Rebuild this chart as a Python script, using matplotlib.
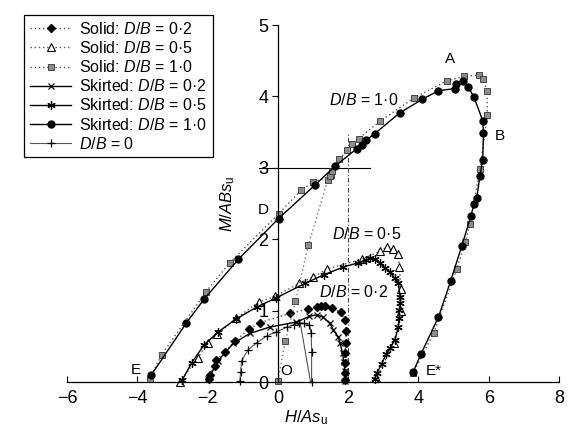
import numpy as np
import matplotlib
matplotlib.use("Agg")
from matplotlib import pyplot as plt

plt.rcParams['font.family'] = ['Liberation Sans', 'DejaVu Sans']
plt.rcParams['mathtext.fontset'] = 'custom'
plt.rcParams['mathtext.rm'] = 'Liberation Sans'
plt.rcParams['mathtext.it'] = 'Liberation Sans:italic'

# ---- data (H/As_u, M/ABs_u) ----
solid02_h = [-1.96, -1.94, -1.8, -1.75, -1.51, -1.23, -0.82, -0.51, 0.34, 0.86, 1.1, 1.24, 1.35, 1.53,
             1.81, 1.91, 1.94, 1.93, 1.91, 1.9, 1.9, 1.9]
solid02_m = [0.04, 0.1, 0.22, 0.31, 0.42, 0.57, 0.74, 0.83, 0.96, 1.02, 1.05, 1.06, 1.06, 1.03,
             0.98, 0.87, 0.72, 0.55, 0.4, 0.26, 0.12, 0.03]

solid05_h = [-2.79, -2.27, -2.0, -1.72, -1.19, -0.55, -0.08, 0.6, 1.0, 1.39, 2.38, 2.91, 3.1, 3.28, 3.43,
             3.46, 3.5, 3.5, 3.3, 2.8]
solid05_m = [0.0, 0.34, 0.55, 0.67, 0.89, 1.12, 1.2, 1.38, 1.47, 1.58, 1.72, 1.83, 1.89, 1.86, 1.79,
             1.61, 1.3, 1.0, 0.55, 0.05]

solid10_h = [-3.65, -3.31, -2.05, -1.37, 0.03, 0.67, 1.0, 1.48, 1.53, 1.75, 1.96, 2.1, 2.3, 2.9, 3.88,
             4.81, 5.31, 5.71, 5.85, 5.95, 5.96, 5.75, 5.47, 5.33, 5.09, 4.43, 3.85]
solid10_m = [0.04, 0.38, 1.26, 1.67, 2.36, 2.69, 2.8, 2.88, 2.95, 3.12, 3.25, 3.34, 3.41, 3.65, 3.98,
             4.22, 4.28, 4.3, 4.24, 4.08, 3.74, 2.98, 2.22, 1.96, 1.58, 0.68, 0.13]
solid10_o_h = [0.0, 0.21, 0.5, 0.87, 1.42, 1.5]
solid10_o_m = [0.02, 0.57, 1.13, 1.92, 2.83, 2.9]

skirt02_h = [-1.98, -1.7, -1.27, -0.8, -0.23, 0.53, 0.9, 1.1, 1.28, 1.48, 1.58, 1.72, 1.77, 1.84, 1.88, 1.91, 1.91]
skirt02_m = [0.04, 0.3, 0.54, 0.68, 0.77, 0.84, 0.92, 0.94, 0.91, 0.82, 0.73, 0.63, 0.55, 0.4, 0.28, 0.15, 0.02]

skirt05_h = [-2.72, -2.45, -2.1, -1.7, -1.2, -0.6, -0.04, 0.77, 1.3, 1.86, 2.29, 2.5, 2.62, 2.76, 2.91,
             3.05, 3.19, 3.33, 3.43, 3.48, 3.48, 3.46, 3.45, 3.43, 3.33, 3.2, 3.08, 2.95, 2.81, 2.76]
skirt05_m = [0.03, 0.27, 0.52, 0.7, 0.88, 1.05, 1.18, 1.38, 1.5, 1.61, 1.67, 1.71, 1.73, 1.72, 1.66,
             1.6, 1.54, 1.45, 1.38, 1.19, 1.1, 1.01, 0.9, 0.77, 0.59, 0.48, 0.39, 0.25, 0.12, 0.04]

skirt10_h = [-3.6, -2.6, -2.1, -1.12, 0.02, 1.06, 1.62, 2.25, 2.38, 2.52, 2.76, 3.47, 4.11, 4.57, 5.04,
             5.06, 5.28, 5.42, 5.58, 5.83, 5.85, 5.83, 5.75, 5.66, 5.58, 5.49, 5.23, 4.92, 4.57, 4.07, 3.85]
skirt10_m = [0.1, 0.83, 1.16, 1.72, 2.29, 2.76, 3.02, 3.27, 3.32, 3.39, 3.48, 3.77, 3.96, 4.08, 4.11,
             4.18, 4.21, 4.13, 3.99, 3.66, 3.49, 3.11, 2.89, 2.58, 2.49, 2.32, 1.9, 1.42, 0.91, 0.39, 0.14]

db0_h = [-1.08, -1.06, -1.03, -0.85, -0.6, -0.3, -0.04, 0.25, 0.45, 0.6, 0.75, 0.9, 0.95, 0.96, 0.96]
db0_m = [0.02, 0.14, 0.3, 0.45, 0.55, 0.65, 0.7, 0.77, 0.8, 0.83, 0.82, 0.8, 0.68, 0.42, 0.0]
db0_slant_h = [0.63, 0.93]
db0_slant_m = [0.85, 0.0]

fig = plt.figure(figsize=(5.75, 4.32), dpi=100)
ax = fig.add_axes([0.1165, 0.1157, 0.8557, 0.8264])

dot = (0, (1, 2))
common = dict(clip_on=False)

# reference lines
ax.plot([-0.55, 2.62], [3, 3], color='black', lw=0.8, **common)
ax.plot([2, 2], [0, 3.5], color='#444444', lw=0.8, ls=(0, (4, 2, 1, 2)), **common)

ax.plot(db0_slant_h, db0_slant_m, color='#555555', lw=0.8, **common)
ax.plot(db0_h, db0_m, color='#555555', lw=0.8, marker='+', ms=6, mew=0.9, mec='black',
        label='$D/B$ = 0', **common)

ax.plot(solid02_h, solid02_m, color='#555555', lw=1.0, ls=dot, marker='D', ms=4, mfc='black', mec='black',
        label='Solid: $D/B$ = 0\u00b72', **common)
ax.plot(solid05_h, solid05_m, color='#555555', lw=1.0, ls=dot, marker='^', ms=5.5, mfc='white', mec='black',
        mew=0.8, label='Solid: $D/B$ = 0\u00b75', **common)
ax.plot(solid10_o_h, solid10_o_m, color='#777777', lw=1.0, ls=dot, marker='s', ms=4.5, mfc='#8c8c8c',
        mec='#333333', mew=0.6, **common)
ax.plot(solid10_h, solid10_m, color='#555555', lw=1.0, ls=dot, marker='s', ms=4.5, mfc='#8c8c8c',
        mec='#333333', mew=0.6, label='Solid: $D/B$ = 1\u00b70', **common)

ax.plot(skirt02_h, skirt02_m, color='black', lw=1.0, marker='x', ms=4.5, mew=0.9,
        label='Skirted: $D/B$ = 0\u00b72', **common)
ax.plot(skirt05_h, skirt05_m, color='black', lw=1.0, marker=(6, 2, 0), ms=6, mew=0.9,
        label='Skirted: $D/B$ = 0\u00b75', **common)
ax.plot(skirt10_h, skirt10_m, color='black', lw=1.0, marker='o', ms=5, mfc='black',
        label='Skirted: $D/B$ = 1\u00b70', **common)

# annotations
ax.text(4.9, 4.53, 'A', fontsize=11, ha='center', va='center')
ax.text(6.32, 3.44, 'B', fontsize=11, ha='center', va='center')
ax.text(-0.42, 2.41, 'D', fontsize=11, ha='center', va='center')
ax.text(-4.03, 0.17, 'E', fontsize=11, ha='center', va='center')
ax.text(0.25, 0.15, 'O', fontsize=11, ha='center', va='center')
ax.text(4.43, 0.16, 'E*', fontsize=11, ha='center', va='center')
ax.text(2.43, 3.95, '$D/B$ = 1\u00b70', fontsize=11.5, ha='center', va='center')
ax.text(2.53, 2.08, '$D/B$ = 0\u00b75', fontsize=11.5, ha='center', va='center')
ax.text(2.15, 1.26, '$D/B$ = 0\u00b72', fontsize=11.5, ha='center', va='center')

ax.set_xlim(-6, 8)
ax.set_ylim(0, 5)
ax.spines['top'].set_visible(False)
ax.spines['right'].set_visible(False)
ax.spines['left'].set_position(('data', 0))
ax.spines['bottom'].set_position(('data', 0))
for s in ('left', 'bottom'):
    ax.spines[s].set_linewidth(0.9)
ax.set_xticks(range(-6, 9, 2))
ax.set_yticks(range(0, 6))
ax.tick_params(axis='x', direction='in', length=4, labelsize=13, pad=6)
ax.tick_params(axis='y', direction='out', length=4, labelsize=13, pad=3)
ax.set_facecolor('none')

ax.set_xlabel('$H/As_\\mathrm{u}$', fontsize=12)
ax.xaxis.set_label_coords(0.486, -0.075)
ax.set_ylabel('$M/ABs_\\mathrm{u}$', fontsize=12)
ax.yaxis.set_label_coords(0.345, 0.5)

handles, labels = ax.get_legend_handles_labels()
order = [1, 2, 3, 4, 5, 6, 0]
leg = ax.legend([handles[i] for i in order], [labels[i] for i in order],
                loc='upper left', bbox_to_anchor=(0.042, 0.965), bbox_transform=fig.transFigure,
                fontsize=11.5, frameon=True, fancybox=False, framealpha=1, edgecolor='black',
                handlelength=2.6, handletextpad=0.5, labelspacing=0.2, borderpad=0.35,
                numpoints=1, borderaxespad=0)
leg.get_frame().set_linewidth(0.9)

fig.savefig('out.png', dpi=100)
